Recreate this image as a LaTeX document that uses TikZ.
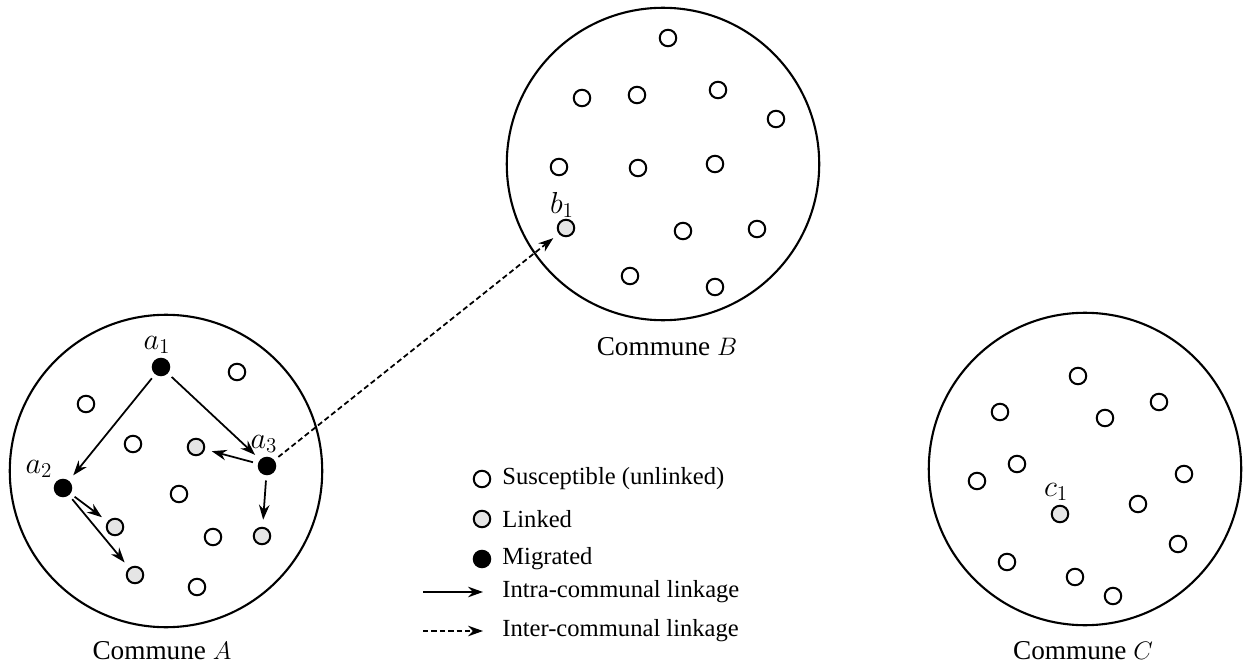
\documentclass[tikz,border=0pt]{standalone}
\usepackage{fontspec}
\setmainfont{Liberation Serif}
\usetikzlibrary{arrows.meta}
\begin{document}
\begin{tikzpicture}[x=0.02cm,y=-0.02cm,
  agent/.style={circle,draw,line width=1.15pt,minimum size=0.33cm,inner sep=0pt},
  sus/.style={agent,fill=white},
  lnk/.style={agent,fill=gray!20},
  mig/.style={agent,fill=black},
  commune/.style={circle,draw,line width=1.2pt,minimum size=6.25cm,inner sep=0pt},
  arr/.style={-{Stealth[length=8.5pt,width=6pt]},line width=1pt},
  intra/.style={arr,shorten <=3pt,shorten >=4pt},
  inter/.style={intra,dash pattern=on 3pt off 1.8pt},
  legdash/.style={arr,dash pattern=on 3pt off 1.8pt},
  lbl/.style={font=\fontsize{15.5}{18}\selectfont,inner sep=0pt},
  leg/.style={font=\fontsize{14}{16}\selectfont,anchor=west,inner sep=0pt},
  ml/.style={font=\fontsize{16.5}{18}\selectfont,inner sep=0pt}
]
\useasboundingbox (0,0) rectangle (1245,669);

% communes
\node[commune] (A) at (166,471) {};
\node[commune] (B) at (663,164) {};
\node[commune] (C) at (1085,469) {};
\node[lbl] (Alab) at (162,651) {Commune $A$};
\node[lbl] (Blab) at (667,347) {Commune $B$};
\node[lbl] (Clab) at (1083,651) {Commune $C$};

% commune A
\node[mig] (a1) at (161,367) {};
\node[mig] (a2) at (63,488) {};
\node[mig] (a3) at (267,466) {};
\node[sus] (A1) at (237,372) {};
\node[sus] (A2) at (86,404) {};
\node[sus] (A3) at (133,444) {};
\node[lnk] (A4) at (196,447) {};
\node[sus] (A5) at (179,494) {};
\node[lnk] (A6) at (115,527) {};
\node[sus] (A7) at (213,537) {};
\node[lnk] (A8) at (262,536) {};
\node[lnk] (A9) at (135,575) {};
\node[sus] (A10) at (197,587) {};
\node[ml] (a1lab) at (157,345) {$a_1$};
\node[ml] (a2lab) at (39,469) {$a_2$};
\node[ml] (a3lab) at (264,444) {$a_3$};

\draw[intra] (a1) -- (a2);
\draw[intra] (a1) -- (a3);
\draw[intra] (a3) -- (A4);
\draw[intra] (a3) -- (A8);
\draw[intra] (a2) -- (A6);
\draw[intra] (a2) -- (A9);

% commune B
\node[sus] (B1) at (668,38) {};
\node[sus] (B2) at (582,98) {};
\node[sus] (B3) at (637,95) {};
\node[sus] (B4) at (718,90) {};
\node[sus] (B5) at (776,119) {};
\node[sus] (B6) at (559,167) {};
\node[sus] (B7) at (638,168) {};
\node[sus] (B8) at (715,164) {};
\node[lnk] (b1) at (566,228) {};
\node[sus] (B9) at (683,231) {};
\node[sus] (B10) at (757,229) {};
\node[sus] (B11) at (630,276) {};
\node[sus] (B12) at (715,287) {};
\node[ml] (b1lab) at (562,205) {$b_1$};

\draw[inter] (a3) -- (b1);

% commune C
\node[sus] (C1) at (1078,376) {};
\node[sus] (C2) at (1000,412) {};
\node[sus] (C3) at (1105,418) {};
\node[sus] (C4) at (1159,402) {};
\node[sus] (C5) at (1017,464) {};
\node[sus] (C6) at (977,481) {};
\node[sus] (C7) at (1184,474) {};
\node[sus] (C8) at (1138,504) {};
\node[lnk] (c1) at (1060,514) {};
\node[sus] (C9) at (1178,544) {};
\node[sus] (C10) at (1007,562) {};
\node[sus] (C11) at (1075,577) {};
\node[sus] (C12) at (1113,596) {};
\node[ml] (c1lab) at (1056,492) {$c_1$};

% legend
\node[sus] (Ls) at (482,479) {};
\node[lnk] (Ll) at (482,519) {};
\node[mig] (Lm) at (482,559) {};
\node[leg] (Lst) at (502,479) {Susceptible (unlinked)};
\node[leg] (Llt) at (502,519) {Linked};
\node[leg] (Lmt) at (502,559) {Migrated};
\coordinate (i1) at (423,592);
\coordinate (i2) at (483,592);
\coordinate (e1) at (423,631);
\coordinate (e2) at (483,631);
\draw[arr] (i1) -- (i2);
\draw[legdash] (e1) -- (e2);
\node[leg] (Lit) at (502,592) {Intra-communal linkage};
\node[leg] (Let) at (502,631) {Inter-communal linkage};
\end{tikzpicture}
\end{document}
